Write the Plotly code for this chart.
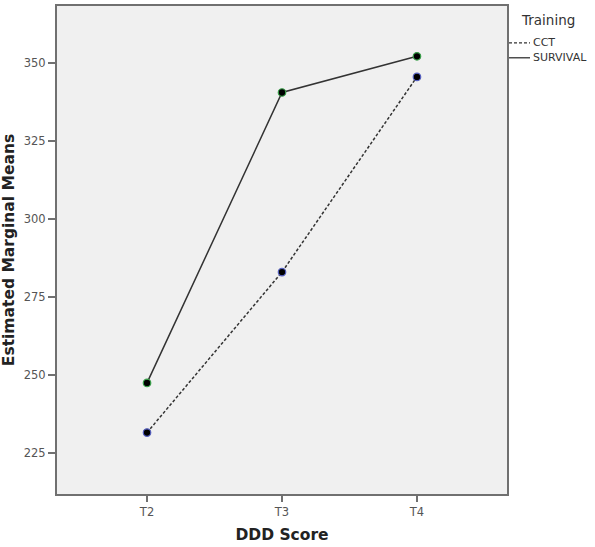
import plotly.graph_objects as go

categories = ["T2", "T3", "T4"]
cct = [231.6, 283.0, 345.5]
survival = [247.5, 340.5, 352.1]
y_ticks = [225, 250, 275, 300, 325, 350]

FONT = "DejaVu Sans"
fig = go.Figure()

# lines
fig.add_trace(go.Scatter(x=categories, y=cct, mode="lines", name="CCT",
                         line=dict(color="#333333", width=1.5, dash="3px,2px"),
                         showlegend=False))
fig.add_trace(go.Scatter(x=categories, y=survival, mode="lines", name="SURVIVAL",
                         line=dict(color="#333333", width=1.5),
                         showlegend=False))
# markers
fig.add_trace(go.Scatter(x=categories, y=cct, mode="markers", showlegend=False,
                         marker=dict(color="#000000", size=7.5,
                                     line=dict(color="#5560c0", width=1.2))))
fig.add_trace(go.Scatter(x=categories, y=survival, mode="markers", showlegend=False,
                         marker=dict(color="#000000", size=7.5,
                                     line=dict(color="#3aa04a", width=1.2))))

# manual legend (paper coordinates)
pw = 450.0
ph = 490.0
def px_x(x):
    return (x - 57) / pw
def px_y(y):
    return (494 - y) / ph

fig.add_annotation(x=px_x(519), y=px_y(18), xref="paper", yref="paper",
                   text="Training", showarrow=False, xanchor="left", yanchor="middle",
                   font=dict(family=FONT, size=13.5, color="#333333"))
legend_items = [("CCT", "3px,2px", 41), ("SURVIVAL", "solid", 56)]
for name, dash, yy in legend_items:
    fig.add_shape(type="line", xref="paper", yref="paper",
                  x0=px_x(509), x1=px_x(530), y0=px_y(yy), y1=px_y(yy),
                  line=dict(color="#333333", width=1.3, dash=dash))
    fig.add_annotation(x=px_x(531), y=px_y(yy), xref="paper", yref="paper",
                       text=name, showarrow=False, xanchor="left", yanchor="middle",
                       font=dict(family=FONT, size=11, color="#333333"))

fig.update_layout(
    width=595, height=547,
    margin=dict(l=57, r=88, t=4, b=53),
    plot_bgcolor="#f0f0f0",
    paper_bgcolor="#ffffff",
    font=dict(family=FONT, size=12, color="#555555"),
    xaxis=dict(
        type="category", range=[-0.667, 2.667],
        showline=True, mirror=True, linecolor="#707070", linewidth=2,
        showgrid=False, zeroline=False,
        ticks="outside", ticklen=6, tickcolor="#707070", tickwidth=1.5,
        tickfont=dict(family=FONT, size=11.5, color="#555555"),
        title=dict(text="<b>DDD Score</b>", standoff=11,
                   font=dict(family=FONT, size=15.5, color="#222222")),
    ),
    yaxis=dict(
        range=[211.93, 368.2], tickvals=y_ticks,
        showline=True, mirror=True, linecolor="#707070", linewidth=2,
        showgrid=False, zeroline=False,
        ticks="outside", ticklen=7, tickcolor="#707070", tickwidth=1.5,
        tickfont=dict(family=FONT, size=11.5, color="#555555"),
        title=dict(text="<b>Estimated Marginal Means</b>", standoff=9,
                   font=dict(family=FONT, size=15.5, color="#222222")),
    ),
)

fig.write_html("out.html")
